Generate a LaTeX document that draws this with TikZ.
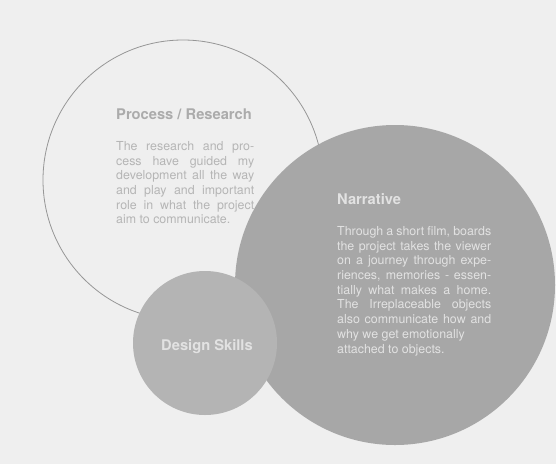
\documentclass[tikz,border=0pt]{standalone}
\usepackage{xcolor}
\usepackage{fontspec}
\setmainfont{TeX Gyre Heros}
\usetikzlibrary{positioning}

\definecolor{paper}{HTML}{EFEFEF}
\definecolor{ringgray}{HTML}{969696}
\definecolor{bigdisc}{HTML}{A7A7A7}
\definecolor{smalldisc}{HTML}{B4B4B4}
\definecolor{softtext}{HTML}{B5B5B5}
\definecolor{softtitle}{HTML}{ABABAB}
\definecolor{palefont}{HTML}{E2E2E2}

\tolerance=9999
\hyphenpenalty=10000

\begin{document}
\begin{tikzpicture}[
        x=1pt, y=-1pt,
        ring/.style={circle, draw=ringgray, line width=0.8pt, inner sep=0pt},
        disc/.style={circle, inner sep=0pt},
        heading/.style={font=\bfseries\fontsize{14.7}{17}\selectfont, inner sep=0pt},
        bodytext/.style={font=\fontsize{12.4}{14.7}\selectfont, align=justify, inner sep=0pt}
    ]
        % Page
        \fill[paper] (0,0) rectangle (556,464);
        \useasboundingbox (0,0) rectangle (556,464);

        % Outline circle
        \node[ring, minimum size=280pt] (procCircle) at (183,180) {};

        % Process / Research text
        \node[heading, text=softtitle, anchor=base west] (procTitle) at (116,119.5) {Process / Research};
        \node[bodytext, text=softtext, text width=138pt, anchor=north west] (procBody) at (116,141.2)
            {The research and pro-\linebreak
             cess have guided my\linebreak
             development all the way\linebreak
             and play and important\linebreak
             role in what the project\linebreak
             aim to communicate.};

        % Filled circles
        \node[disc, fill=bigdisc, minimum size=320pt] (narrCircle) at (395,285) {};
        \node[disc, fill=smalldisc, minimum size=144pt] (skillCircle) at (205,343) {};

        % Narrative text
        \node[heading, text=palefont, anchor=base west] (narrTitle) at (337,204) {Narrative};
        \node[bodytext, text=palefont, text width=154pt, anchor=north west] (narrBody) at (337,226.2)
            {Through a short film, boards\linebreak
             the project takes the viewer\linebreak
             on a journey through expe-\linebreak
             riences, memories - essen-\linebreak
             tially what makes a home.\linebreak
             The Irreplaceable objects\linebreak
             also communicate how and\linebreak
             why we get emotionally\newline
             attached to objects.};

        % Design Skills label
        \node[heading, text=palefont, anchor=base] (skillTitle) at (207,350.7) {Design Skills};

    \end{tikzpicture}
\end{document}
